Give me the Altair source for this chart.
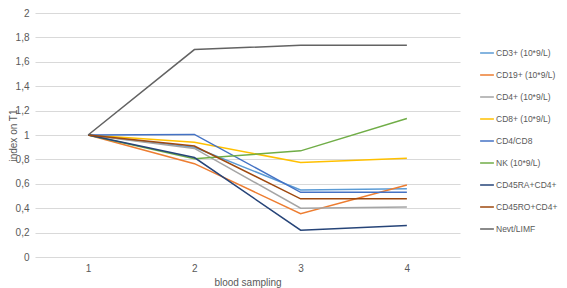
import altair as alt
import pandas as pd

samples = ["1", "2", "3", "4"]
series = ["CD3+ (10*9/L)", "CD19+ (10*9/L)", "CD4+ (10*9/L)", "CD8+ (10*9/L)",
          "CD4/CD8", "NK (10*9/L)", "CD45RA+CD4+", "CD45RO+CD4+", "Nevt/LIMF"]
colors = ["#5B9BD5", "#ED7D31", "#A5A5A5", "#FFC000", "#4472C4", "#70AD47",
          "#264478", "#9E480E", "#636363"]

cd3 = [1, 0.90, 0.55, 0.56]
cd19 = [1, 0.765, 0.355, 0.59]
cd4 = [1, 0.89, 0.40, 0.41]
cd8 = [1, 0.94, 0.775, 0.81]
cd4cd8 = [1, 1.005, 0.53, 0.53]
nk = [1, 0.805, 0.87, 1.135]
cd45ra = [1, 0.815, 0.22, 0.258]
cd45ro = [1, 0.91, 0.477, 0.477]
nevt = [1, 1.70, 1.735, 1.735]

values = [cd3, cd19, cd4, cd8, cd4cd8, nk, cd45ra, cd45ro, nevt]

rows = []
for i, (name, vals) in enumerate(zip(series, values)):
    for s, v in zip(samples, vals):
        rows.append({"series": name, "sample": s, "value": v, "ord": i})
df = pd.DataFrame(rows)

font = "Liberation Sans"
txt = "#595959"

chart = alt.Chart(df).mark_line(strokeWidth=1.5).encode(
    x=alt.X("sample:O", sort=samples, scale=alt.Scale(type="point", padding=0.5),
            axis=alt.Axis(title="blood sampling", labelAngle=0, ticks=False, domain=False,
                          grid=False, labelPadding=6, titlePadding=4)),
    y=alt.Y("value:Q", scale=alt.Scale(domain=[0, 2], nice=False),
            axis=alt.Axis(title="index on T1",
                          values=[0, 0.2, 0.4, 0.6, 0.8, 1, 1.2, 1.4, 1.6, 1.8, 2],
                          labelExpr="replace(format(datum.value, '~g'), '.', ',')",
                          ticks=False, domain=False, labelPadding=6, titleX=-17)),
    color=alt.Color("series:N", scale=alt.Scale(domain=series, range=colors),
                    legend=alt.Legend(title=None, orient="none", legendX=444, legendY=32,
                                      symbolType="stroke", symbolSize=190, symbolStrokeWidth=1.5,
                                      rowPadding=9, labelOffset=1, labelLimit=100)),
    detail="series:N",
    order="ord:Q",
).properties(width=425, height=244,
             autosize=alt.AutoSizeParams(type="none"),
             padding={"left": 27, "top": 5, "right": 99, "bottom": 31})

chart = chart.configure_view(stroke=None).configure_axis(
    labelFont=font, titleFont=font, labelColor=txt, titleColor=txt,
    labelFontSize=10, titleFontSize=10, titleFontWeight="normal",
    gridColor="#D9D9D9", gridWidth=1
).configure_legend(labelFont=font, labelFontSize=8.5, labelColor=txt)

chart.save("out.html", embed_options={"renderer": "svg", "actions": False})
